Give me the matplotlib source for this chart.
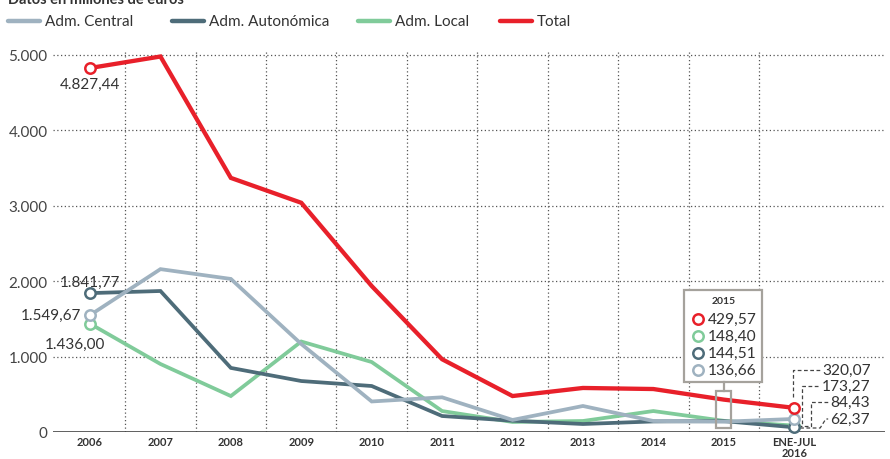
import matplotlib
matplotlib.use('Agg')
import matplotlib.pyplot as plt
from matplotlib.lines import Line2D
from matplotlib.patches import Rectangle

plt.rcParams['font.family'] = ['Lato', 'DejaVu Sans']

# data (millones de euros)
years = ['2006', '2007', '2008', '2009', '2010', '2011', '2012', '2013', '2014', '2015', 'ENE-JUL\n2016']
total = [4827.44, 4980, 3370, 3040, 1936, 965, 477, 584, 570, 429.57, 320.07]
central = [1549.67, 2160, 2030, 1167, 405, 460, 160, 345, 146, 136.66, 173.27]
autonomica = [1841.77, 1870, 850, 676, 610, 212, 150, 106, 140, 144.51, 62.37]
local = [1436.00, 902, 477, 1200, 928, 278, 133, 146, 278, 148.40, 84.43]
start_labels = ['4.827,44', '1.549,67', '1.841,77', '1.436,00']
yticks = [0, 1000, 2000, 3000, 4000, 5000]
ytick_labels = ['0', '1.000', '2.000', '3.000', '4.000', '5.000']

c_total = '#e8202a'
c_central = '#9fb2c0'
c_aut = '#4e6c79'
c_local = '#80cb9a'
txt = '#333333'

W, H = 890, 460
fig = plt.figure(figsize=(W / 100, H / 100), dpi=100)
ax = fig.add_axes([53 / W, 27 / H, 832 / W, 400 / H])
x = list(range(len(years)))
ax.set_xlim(-0.526, 11.29)
ax.set_ylim(0, 5305)

def px(xp, yp):
    # pixel position of the reference -> data coordinates
    return (xp - 90) / 70.4, (433 - yp) / 75.4 * 1000

# grid
for yv in yticks[1:]:
    ax.axhline(yv, color='#555555', lw=0.9, ls=(0, (1, 2)), zorder=1)
ax.vlines([i + 0.5 for i in range(len(years) - 1)], 0, 5050, color='#555555', lw=0.9,
          linestyles=[(0, (1, 2))], zorder=1)
ax.axhline(0, color='#444444', lw=1.2, zorder=2)

series = [(local, c_local), (autonomica, c_aut), (central, c_central), (total, c_total)]
for vals, col in series:
    lw = 3.1 if col == c_total else 2.7
    ax.plot(x, vals, color=col, lw=lw, solid_joinstyle='miter', zorder=3)
    ax.plot([x[0], x[-1]], [vals[0], vals[-1]], ls='none', marker='o', ms=7.5,
            mfc='white', mec=col, mew=1.8, zorder=4, clip_on=False)

for s in ax.spines.values():
    s.set_visible(False)
ax.set_yticks(yticks)
ax.set_yticklabels(ytick_labels, fontsize=11, color='#444444')
ax.set_xticks(x)
ax.set_xticklabels(years, fontsize=8, fontweight='bold', color=txt, linespacing=0.95)
ax.tick_params(length=0, pad=3)
ax.tick_params(axis='y', pad=4)

# start labels
ax.text(0, total[0] - 120, start_labels[0], ha='center', va='top', fontsize=11, color=txt)
ax.text(-0.12, central[0], start_labels[1], ha='right', va='center', fontsize=11, color=txt)
ax.text(-0.43, autonomica[0] + 60, start_labels[2], ha='left', va='bottom', fontsize=11, color=txt)
ax.text(-0.64, local[0] - 170, start_labels[3], ha='left', va='top', fontsize=11, color=txt)

# 2015 box
bx0, by0 = px(684, 383)
bx1, by1 = px(762, 291)
ax.add_patch(Rectangle((bx0, by0), bx1 - bx0, by1 - by0, fill=True, fc='white',
                       ec='#a5a29c', lw=1.6, zorder=6))
sx0, sy0 = px(716, 429)
sx1, sy1 = px(731, 392)
ax.add_patch(Rectangle((sx0, sy0), sx1 - sx0, sy1 - sy0, fill=False,
                       ec='#a5a29c', lw=1.6, zorder=6))
ax.plot([9, 9], [by0, sy1], color='#a5a29c', lw=1.6, zorder=6)
tx, ty = px(724, 302)
ax.text(9, ty, years[9], ha='center', va='center', fontsize=7.5, fontweight='bold', color=txt, zorder=7)
box_items = [(total[9], c_total), (local[9], c_local), (autonomica[9], c_aut), (central[9], c_central)]
for k, (v, col) in enumerate(box_items):
    mx, my = px(698, 320 + 17 * k)
    ax.plot([mx], [my], marker='o', ms=7.5, mfc='white', mec=col, mew=1.8, zorder=7)
    lx, _ = px(708, 0)
    ax.text(lx, my, f'{v:.2f}'.replace('.', ','), ha='left', va='center',
            fontsize=11.2, color=txt, zorder=7)

# end labels with dashed leaders
end_items = [total[10], central[10], local[10], autonomica[10]]
leader_x = [793, 802, 811, 820]
leader_end = [820, 820, 828, 828]
label_y = [371, 387, 403, 420]
for k, v in enumerate(end_items):
    xv, ly = px(leader_x[k], label_y[k])
    xe, _ = px(leader_end[k], 0)
    if k == 0:
        pts = [(xv, v + 150), (xv, ly), (xe, ly)]
    elif k == 3:
        xs, ys = px(800, 429)
        pts = [(xs, ys), (xv, ys), (xv + 0.08, ly), (xe, ly)]
    else:
        _, yb = px(0, 427)
        pts = [(10.05, yb), (xv, yb), (xv, ly), (xe, ly)]
    ax.plot([p[0] for p in pts], [p[1] for p in pts], color='#444444', lw=0.9,
            ls=(0, (3, 2)), zorder=2, clip_on=False)
    ax.text(xe + 0.03, ly, f'{v:.2f}'.replace('.', ','), ha='left', va='center',
            fontsize=11.2, color=txt)

# legend, drawn by hand
leg_names = ['Adm. Central', 'Adm. Autonómica', 'Adm. Local', 'Total']
leg_cols = [c_central, c_aut, c_local, c_total]
leg_x = [8, 172, 358, 500]
for name, col, lx in zip(leg_names, leg_cols, leg_x):
    fig.add_artist(Line2D([lx / W, (lx + 32) / W], [1 - 22 / H, 1 - 22 / H], color=col,
                          lw=3.2, solid_capstyle='round'))
    fig.text((lx + 37) / W, 1 - 22 / H, name, ha='left', va='center', fontsize=11, color=txt)

fig.text(8 / W, 1 - 4 / H, 'Datos en millones de euros', ha='left', va='baseline',
         fontsize=10.5, fontweight='bold', color=txt)

fig.savefig('out.png', dpi=100)
